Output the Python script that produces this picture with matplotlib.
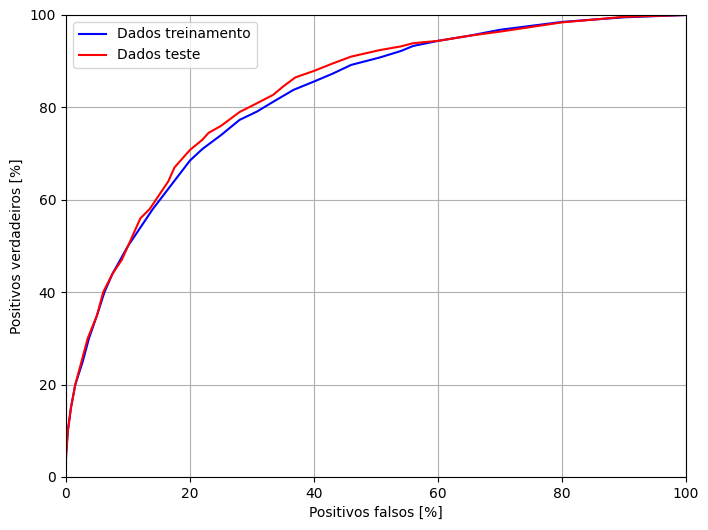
import matplotlib
matplotlib.use("Agg")
import matplotlib.pyplot as plt

fp_treino = [0, 0.3, 0.8, 1.5, 2.7, 3.7, 5, 6.2, 7.5, 10, 12, 14, 16, 18, 20,
             22, 25, 28, 30.8, 33.4, 36.7, 40, 43, 46, 50.6, 54, 56, 60, 65, 70, 80, 90, 100]
vp_treino = [5, 10, 15, 20, 25, 30, 35, 40, 44, 50, 54, 58, 61.5, 65, 68.5,
             71, 74, 77.3, 79.1, 81.2, 83.8, 85.6, 87.3, 89.2, 90.8, 92.2, 93.3, 94.4, 95.5, 96.8, 98.5, 99.5, 100]

fp_teste = [0, 0.3, 0.8, 1.5, 2.5, 3.5, 5, 6, 7.5, 9, 10, 12, 13.5, 15, 16.5, 17.5,
            20, 22, 23, 25, 28, 30.8, 33.4, 35, 37, 40, 43, 46, 50.6, 54, 56, 60, 65, 70, 80, 90, 100]
vp_teste = [4, 10, 15, 20, 25, 30, 35, 40, 44, 47, 50, 56, 58, 61, 64, 67,
            70.8, 73, 74.5, 76, 79, 80.9, 82.7, 84.5, 86.5, 87.9, 89.5, 91, 92.4, 93.2, 93.9, 94.4, 95.5, 96.4, 98.4, 99.6, 100]

fig = plt.figure(figsize=(7.08, 5.3), dpi=100)
ax = fig.add_axes([66 / 708, 53 / 530, 620 / 708, 462 / 530])
ax.plot(fp_treino, vp_treino, color="blue", label="Dados treinamento")
ax.plot(fp_teste, vp_teste, color="red", label="Dados teste")
ax.set_xlim(0, 100)
ax.set_ylim(0, 100)
ax.set_xlabel("Positivos falsos [%]")
ax.set_ylabel("Positivos verdadeiros [%]")
ax.grid(True)
ax.legend(loc="upper left")

fig.savefig("out.png", dpi=100)
